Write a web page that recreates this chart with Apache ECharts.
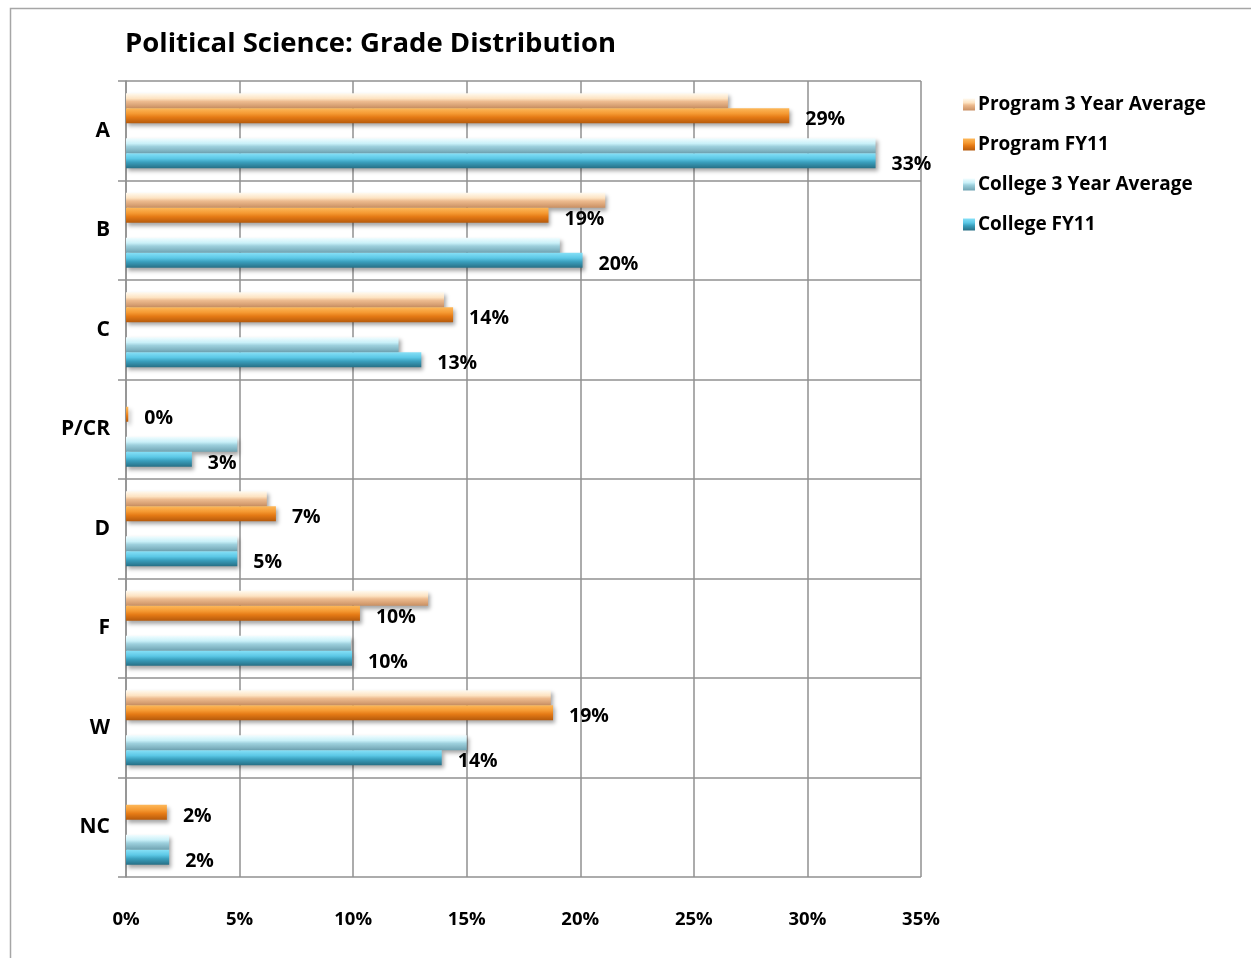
<!DOCTYPE html>
<html>
<head>
<meta charset="utf-8">
<script src="https://cdn.jsdelivr.net/npm/echarts@6/dist/echarts.min.js"></script>
<style>
html,body{margin:0;padding:0;background:#fff;}
#chart{width:1251px;height:958px;}
</style>
</head>
<body>
<div id="chart"></div>
<script>
const categories = ['A', 'B', 'C', 'P/CR', 'D', 'F', 'W', 'NC'];
const program3YearAverage = [26.5, 21.1, 14.0, 0, 6.2, 13.3, 18.7, 0];
const programFY11 = [29.2, 18.6, 14.4, 0.1, 6.6, 10.3, 18.8, 1.8];
const college3YearAverage = [33.0, 19.1, 12.0, 4.9, 4.9, 9.9, 15.0, 1.9];
const collegeFY11 = [33.0, 20.1, 13.0, 2.9, 4.9, 9.95, 13.9, 1.9];
const xTicks = [0, 5, 10, 15, 20, 25, 30, 35];

const FONT = '"Open Sans", Lato, sans-serif';

function grad(stops) {
  return new echarts.graphic.LinearGradient(0, 0, 0, 1,
    stops.map(function (s) { return { offset: s[0], color: s[1] }; }));
}
const shadow = { shadowColor: 'rgba(0,0,0,0.35)', shadowBlur: 4, shadowOffsetX: 2, shadowOffsetY: 3 };

const colors = {
  p3: grad([[0, '#fffaf0'], [0.35, '#fde3c2'], [0.55, '#edbb8f'], [1, '#c98f62']]),
  pf: grad([[0, '#fdb85a'], [0.35, '#f59a33'], [0.6, '#e57a15'], [1, '#b55a0c']]),
  c3: grad([[0, '#f2fdff'], [0.35, '#c9f0f8'], [0.55, '#9dd0dd'], [1, '#6fa3b2']]),
  cf: grad([[0, '#86e0f7'], [0.35, '#5cc8e6'], [0.6, '#3a9fbd'], [1, '#276f85']])
};

const labelStyle = {
  show: true, position: 'right', distance: 16, offset: [0, 4],
  formatter: function (p) { return Math.round(p.value) + '%'; },
  color: '#000', fontFamily: FONT, fontWeight: 'bold', fontSize: 19.5
};

function barSeries(name, data, color, withLabel) {
  return {
    name: name, type: 'bar', data: data, barWidth: 15, barGap: '0%',
    itemStyle: Object.assign({ color: color }, shadow),
    label: withLabel ? labelStyle : { show: false },
    emphasis: { disabled: true },
    animation: false
  };
}

const chart = echarts.init(document.getElementById('chart'));
chart.setOption({
  backgroundColor: '#fff',
  animation: false,
  title: {
    text: 'Political Science: Grade Distribution',
    left: 120, top: 25,
    textStyle: { fontFamily: FONT, fontWeight: 'bold', fontSize: 27.5, color: '#000' }
  },
  graphic: [{
    type: 'rect', left: 8, top: 6, z: -1,
    shape: { width: 1300, height: 1000 },
    style: { fill: 'none', stroke: '#a6a6a6', lineWidth: 1.5 }
  }],
  legend: {
    orient: 'vertical', left: 958, top: 90, itemGap: 21,
    itemWidth: 12, itemHeight: 12, icon: 'rect',
    data: ['Program 3 Year Average', 'Program FY11', 'College 3 Year Average', 'College FY11'],
    textStyle: { fontFamily: FONT, fontWeight: 'bold', fontSize: 19, color: '#000', padding: [0, 0, 0, -2] }
  },
  grid: { left: 126, right: 330, top: 81, bottom: 81, containLabel: false },
  xAxis: {
    type: 'value', min: 0, max: 35, interval: 5,
    axisLine: { show: false },
    axisTick: { show: false },
    splitLine: { show: true, lineStyle: { color: '#909090', width: 1.5 } },
    axisLabel: {
      margin: 33, color: '#000', fontFamily: FONT, fontWeight: 'bold', fontSize: 18.5,
      formatter: function (v) { return xTicks.indexOf(v) >= 0 ? v + '%' : ''; }
    }
  },
  yAxis: {
    type: 'category', data: categories, inverse: true,
    axisLine: { show: true, lineStyle: { color: '#909090', width: 1.5 } },
    axisTick: { show: true, length: 8, lineStyle: { color: '#909090', width: 1.5 } },
    splitLine: { show: true, lineStyle: { color: '#909090', width: 1.5 } },
    axisLabel: { margin: 16, color: '#000', fontFamily: FONT, fontWeight: 'bold', fontSize: 21 }
  },
  series: [
    barSeries('Program 3 Year Average', program3YearAverage, colors.p3, false),
    barSeries('Program FY11', programFY11, colors.pf, true),
    { name: 'spacer', type: 'bar', data: categories.map(function () { return '-'; }), barWidth: 15, barGap: '0%', silent: true },
    barSeries('College 3 Year Average', college3YearAverage, colors.c3, false),
    barSeries('College FY11', collegeFY11, colors.cf, true)
  ]
});
</script>
</body>
</html>
